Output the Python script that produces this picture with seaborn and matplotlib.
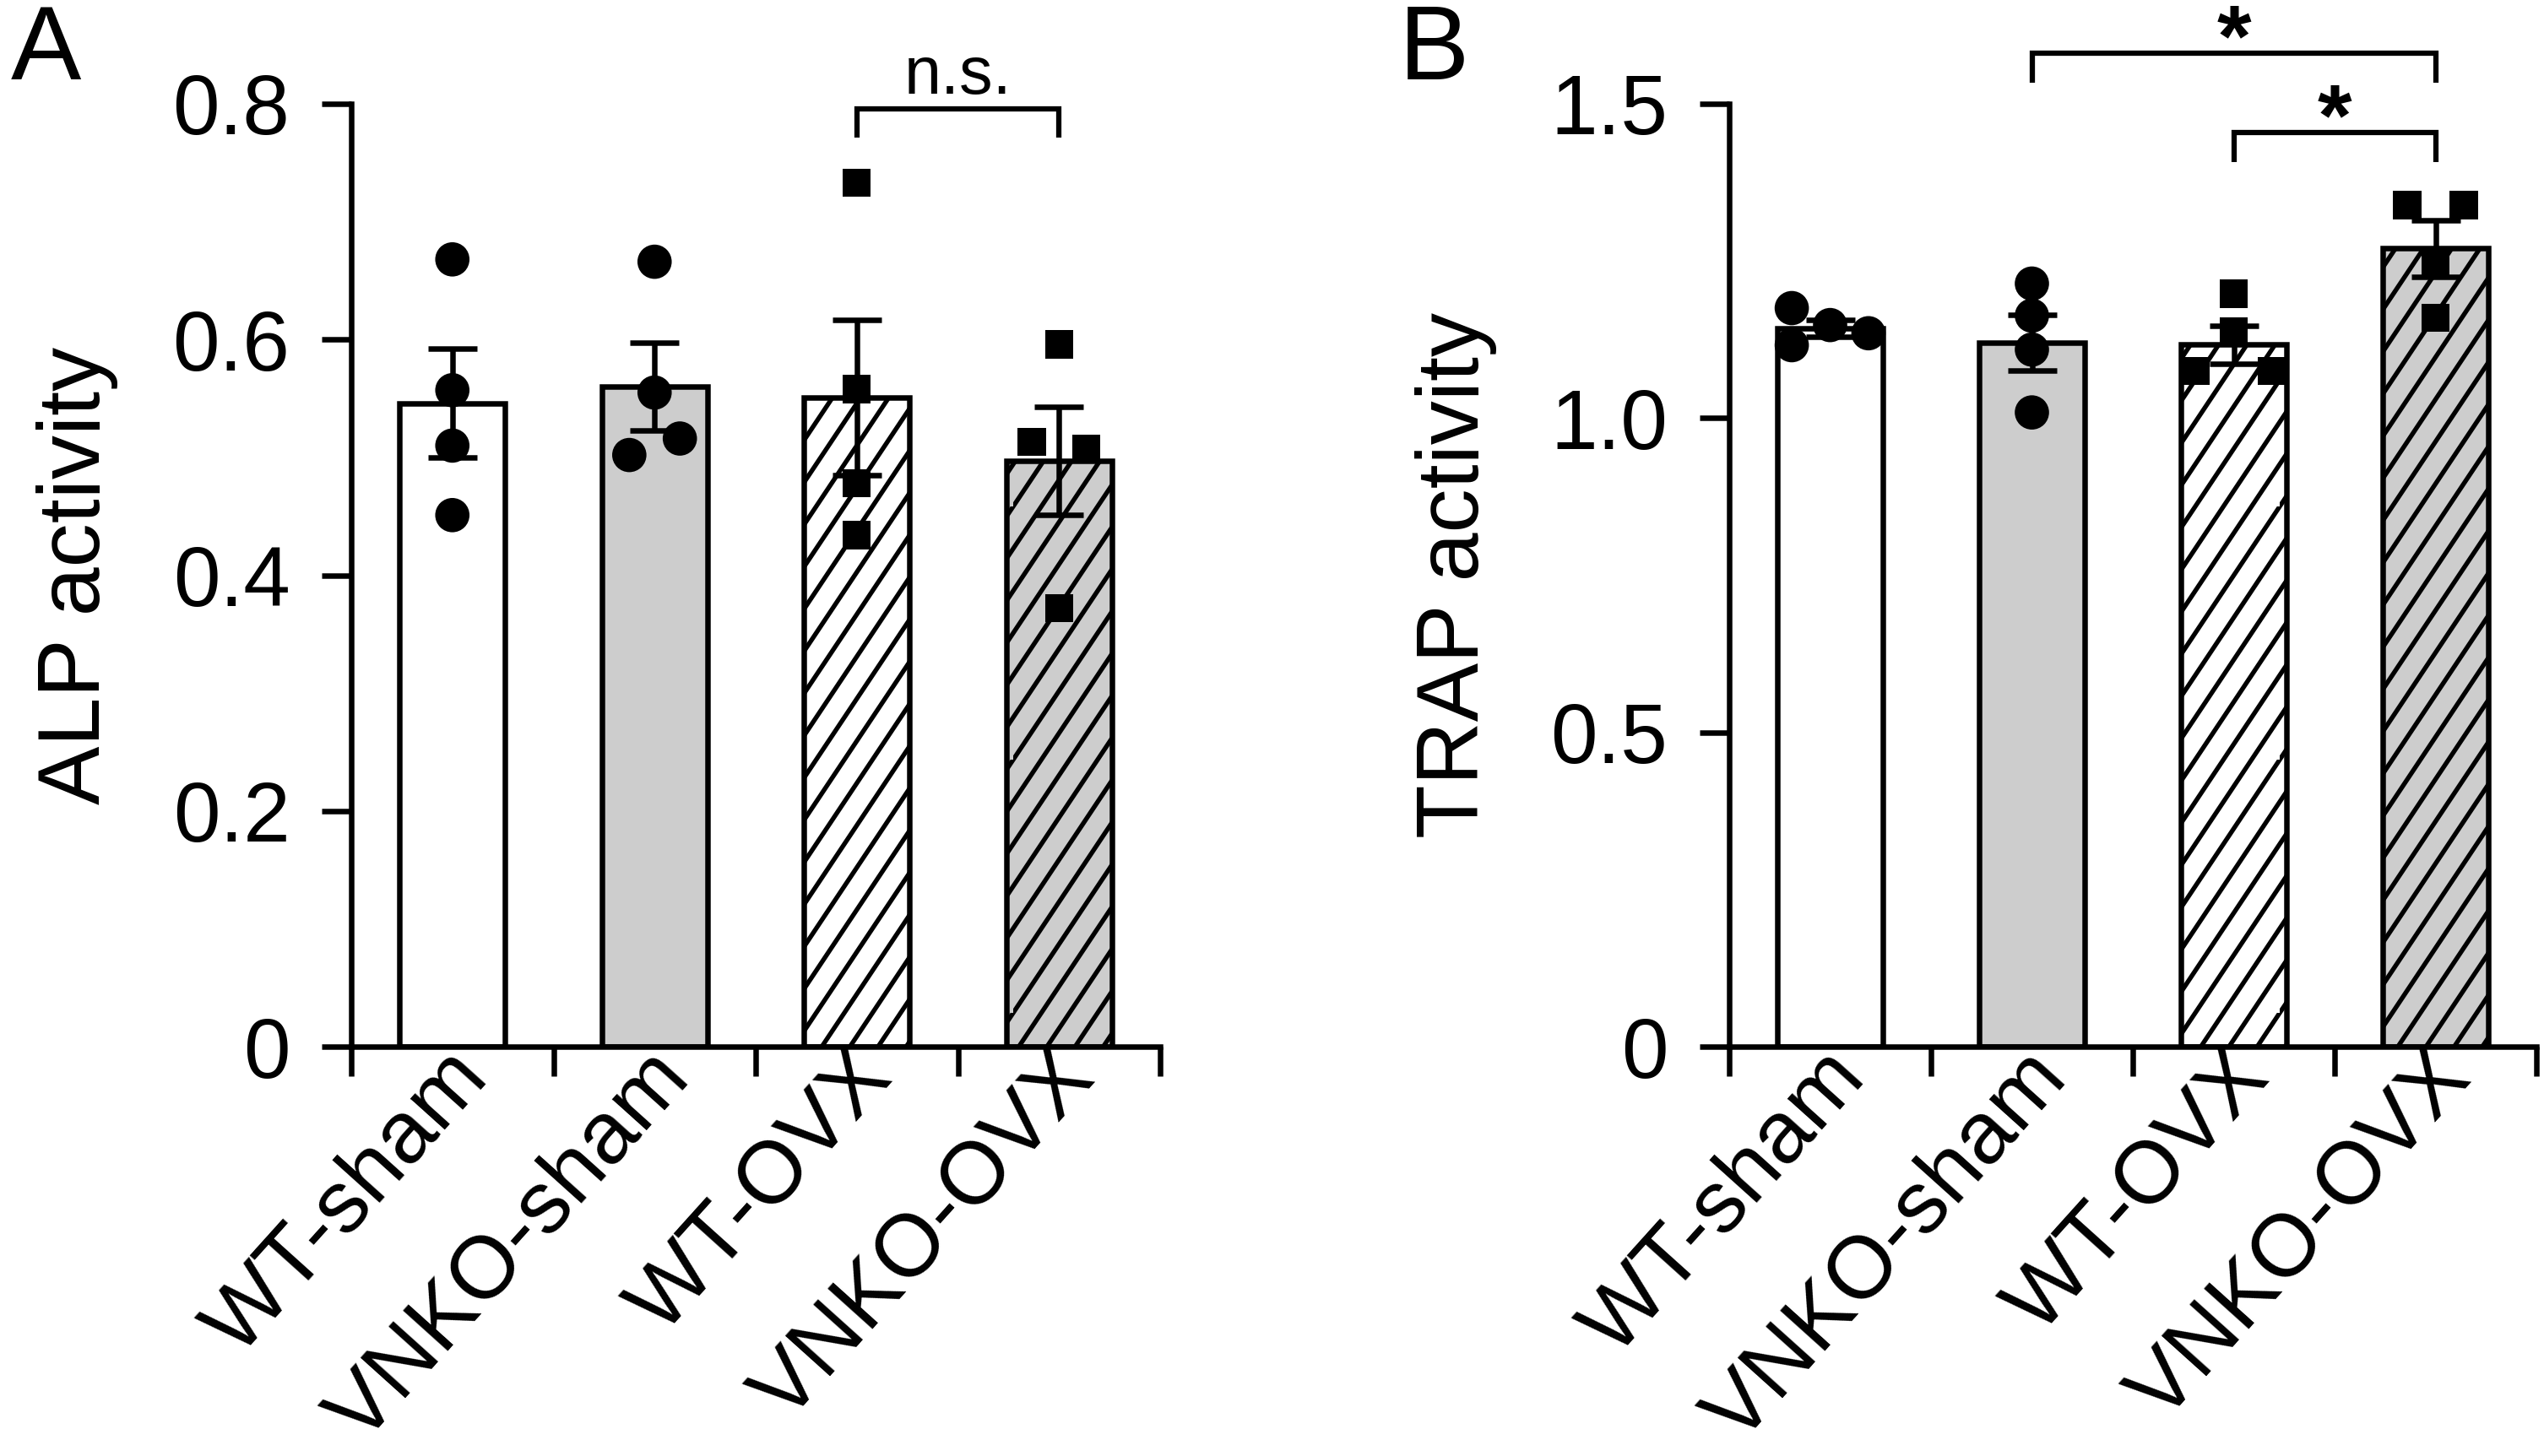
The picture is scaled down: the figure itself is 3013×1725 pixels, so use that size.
import numpy as np
import pandas as pd
import matplotlib
matplotlib.use("Agg")
import matplotlib.pyplot as plt
import matplotlib.hatch as mhatch
from matplotlib.path import Path
import seaborn as sns

# ---------------- data ----------------
groups = ["WT-sham", "VNKO-sham", "WT-OVX", "VNKO-OVX"]

alp_mean = [0.546, 0.560, 0.551, 0.497]
alp_sem = [0.046, 0.037, 0.066, 0.046]
alp_points = [
    [0.668, 0.557, 0.510, 0.451],
    [0.666, 0.555, 0.516, 0.502],
    [0.733, 0.558, 0.478, 0.434],
    [0.596, 0.513, 0.507, 0.372],
]

trap_mean = [1.143, 1.120, 1.117, 1.270]
trap_sem = [0.0135, 0.044, 0.030, 0.045]
trap_points = [
    [1.175, 1.148, 1.135, 1.116],
    [1.214, 1.163, 1.109, 1.009],
    [1.198, 1.138, 1.075, 1.075],
    [1.339, 1.339, 1.245, 1.160],
]

alp_ticks = [0, 0.2, 0.4, 0.6, 0.8]
alp_ticklabels = ["0", "0.2", "0.4", "0.6", "0.8"]
trap_ticks = [0, 0.5, 1.0, 1.5]
trap_ticklabels = ["0", "0.5", "1.0", "1.5"]

# significance brackets: (group i, group j, bracket level, label)
alp_sig = [(2, 3, 0.796, "n.s.")]
trap_sig = [(1, 3, 1.580, "*"), (2, 3, 1.454, "*")]

# ---------------- styling / layout ----------------
W, H, DPI = 3013, 1725, 300
fills = ["white", "#cdcdcd", "white", "#cdcdcd"]
hatches = ["", "", "/", "/"]
markers = ["o", "o", "s", "s"]
alp_offsets = [[0, 0, 0, 0], [0, 0, 0.125, -0.125], [0, 0, 0, 0], [0, -0.135, 0.135, 0]]
trap_offsets = [[-0.19, 0, 0.19, -0.19], [0, 0, 0, 0], [0, 0, -0.19, 0.19], [-0.14, 0.14, 0, 0]]
LABEL_SHIFT = 0.105   # rotated category labels sit slightly right of bar centre
LW = 1.56


# steeper "/" hatch (about 56 degrees, like the reference)
class SteepHatch(mhatch.HatchPatternBase):
    def __init__(self, hatch, density):
        self.num_lines = int(hatch.count('/') * density * 1.5)
        self.num_vertices = self.num_lines * 4

    def set_vertices_and_codes(self, vertices, codes):
        n = self.num_lines
        dx = 2.0 / 3.0
        e = 0.1
        k = 0
        for shift in (0.0, -1.0):
            for i in range(n):
                a = i / n + shift
                vertices[k] = (a - e * dx, -e)
                vertices[k + 1] = (a + dx * (1 + e), 1 + e)
                codes[k] = Path.MOVETO
                codes[k + 1] = Path.LINETO
                k += 2


mhatch._hatch_types = [SteepHatch if t is mhatch.NorthEastHatch else t
                       for t in mhatch._hatch_types]

sns.set_theme(style="ticks")
plt.rcParams["font.family"] = ["Liberation Sans", "DejaVu Sans"]
plt.rcParams["hatch.linewidth"] = 1.3
plt.rcParams["hatch.color"] = "black"
plt.rcParams["axes.linewidth"] = LW
for key in ("text.color", "axes.labelcolor", "xtick.color", "ytick.color",
            "axes.edgecolor"):
    plt.rcParams[key] = "black"

fig = plt.figure(figsize=(W / DPI, H / DPI), dpi=DPI)
ax_a = fig.add_axes([416 / W, 1 - 1240 / H, 958 / W, 1117 / H])
ax_b = fig.add_axes([2048 / W, 1 - 1240 / H, 956 / W, 1117 / H])


def panel(ax, means, sems, points, offsets, ticks, ticklabels, ylabel, sig, sig_style):
    df = pd.DataFrame({"group": groups, "mean": means})
    sns.barplot(data=df, x="group", y="mean", hue="group", order=groups,
                hue_order=groups, palette=fills, width=0.52, errorbar=None,
                edgecolor="black", linewidth=LW, legend=False, ax=ax, zorder=2)
    for i, cont in enumerate(ax.containers):
        for p in cont:
            p.set_hatch(hatches[i])
            p.set_edgecolor("black")
            p.set_linewidth(LW)

    ax.errorbar(x=np.arange(len(groups)), y=means, yerr=sems, fmt="none",
                ecolor="black", elinewidth=LW, capsize=6.85, capthick=LW, zorder=3)

    for gi, vals in enumerate(points):
        xs = [gi + o for o in offsets[gi]]
        pdf = pd.DataFrame({"x": xs, "y": vals})
        size = 95 if markers[gi] == "o" else 64
        sns.scatterplot(data=pdf, x="x", y="y", marker=markers[gi], s=size,
                        color="black", linewidth=0, edgecolor="none",
                        ax=ax, zorder=4, legend=False)

    ymax = ticks[-1]
    ax.set_xlim(-0.5, len(groups) - 0.5)
    ax.set_ylim(0, ymax)
    ax.set_yticks(ticks)
    ax.set_yticklabels(ticklabels)
    ax.set_xticks(np.arange(-0.5, len(groups), 1.0))
    ax.set_xticklabels([])
    ax.set_xticks(np.arange(len(groups)) + LABEL_SHIFT, minor=True)
    ax.set_xticklabels(groups, minor=True, rotation=48, ha="right",
                       va="center", rotation_mode="anchor", fontsize=25)
    ax.tick_params(axis="both", which="major", length=8.4, width=LW,
                   direction="out", labelsize=24, pad=9, color="black",
                   labelcolor="black")
    ax.tick_params(axis="x", which="minor", length=0, pad=5, labelcolor="black")
    ax.set_xlabel("")
    ax.set_ylabel(ylabel, fontsize=25, color="black")
    ax.yaxis.set_label_coords(-0.288, 0.5)
    for s in ("top", "right"):
        ax.spines[s].set_visible(False)
    for s in ("left", "bottom"):
        ax.spines[s].set_linewidth(LW)
        ax.spines[s].set_color("black")

    leg = 0.031 * ymax
    for (i, j, y, lab) in sig:
        ax.plot([i, i, j, j], [y - leg, y, y, y - leg], color="black", lw=1.5,
                clip_on=False, solid_joinstyle="miter", solid_capstyle="butt")
        if sig_style == "ns":
            ax.annotate(lab, xy=((i + j) / 2, y), xytext=(0, 4.3),
                        textcoords="offset points", ha="center", va="baseline",
                        fontsize=19, color="black", annotation_clip=False)
        else:
            ax.annotate(lab, xy=((i + j) / 2, y), xytext=(0, 14.4),
                        textcoords="offset points", ha="center", va="top",
                        fontsize=25, fontweight="bold", color="black",
                        annotation_clip=False)


panel(ax_a, alp_mean, alp_sem, alp_points, alp_offsets, alp_ticks,
      alp_ticklabels, "ALP activity", alp_sig, "ns")
panel(ax_b, trap_mean, trap_sem, trap_points, trap_offsets, trap_ticks,
      trap_ticklabels, "TRAP activity", trap_sig, "star")

fig.text(13 / W, 1 - 4 / H, "A", fontsize=30, ha="left", va="top", color="black")
fig.text(1657 / W, 1 - 4 / H, "B", fontsize=30, ha="left", va="top", color="black")

fig.savefig("out.png", dpi=DPI)
